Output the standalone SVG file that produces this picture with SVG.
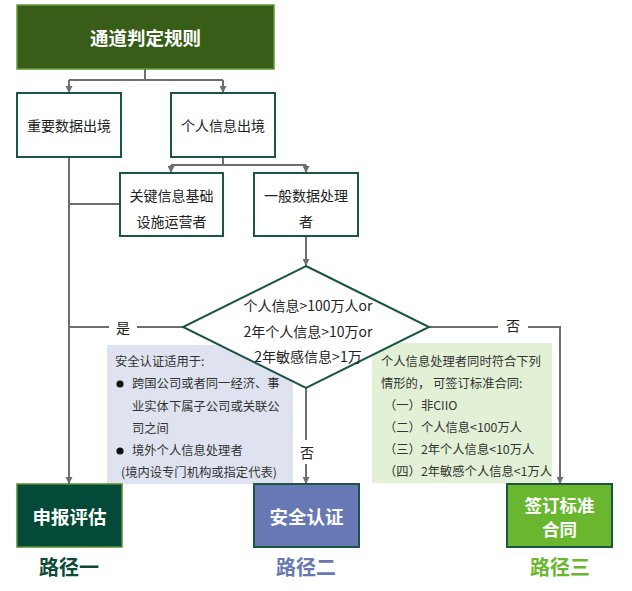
<svg xmlns="http://www.w3.org/2000/svg" width="632" height="591" viewBox="0 0 632 591">
<defs>
<style>
text{font-family:"Noto Sans CJK SC","Microsoft YaHei",sans-serif;}
.box{fill:#ffffff;stroke:#1b5544;stroke-width:2;}
.t14{font-size:14px;fill:#222;text-anchor:middle;dominant-baseline:central;}
.t12{font-size:12.3px;fill:#333;}
.wb{font-size:18.5px;font-weight:bold;fill:#ffffff;text-anchor:middle;dominant-baseline:central;}
.wb2{font-size:17.5px;font-weight:bold;fill:#ffffff;text-anchor:middle;dominant-baseline:central;}
.lab{font-size:20px;font-weight:bold;text-anchor:middle;}
.ln{fill:none;stroke:#6e6e6e;stroke-width:2;}
</style>
<marker id="arr" viewBox="0 0 10 10" refX="10" refY="5" markerWidth="7" markerHeight="7" markerUnits="userSpaceOnUse" orient="auto"><path d="M0,0 L10,5 L0,10 z" fill="#6e6e6e"/></marker>
</defs>
<rect width="632" height="591" fill="#ffffff"/>

<g id="note-security">
<rect x="107" y="345" width="186" height="139" fill="#dfe3ef"/>
<text class="t12" x="115" y="366">安全认证适用于:</text>
<circle cx="120" cy="384" r="3.6" fill="#111"/>
<text class="t12" x="132" y="388">跨国公司或者同一经济、事</text>
<text class="t12" x="132" y="411">业实体下属子公司或关联公</text>
<text class="t12" x="132" y="433">司之间</text>
<circle cx="120" cy="451" r="3.6" fill="#111"/>
<text class="t12" x="132" y="455">境外个人信息处理者</text>
<text class="t12" x="121" y="477">(境内设专门机构或指定代表)</text>
</g>

<g id="note-contract">
<rect x="372" y="343" width="180" height="140" fill="#e2f0d6"/>
<text class="t12" x="381" y="366">个人信息处理者同时符合下列</text>
<text class="t12" x="381" y="388">情形的， 可签订标准合同:</text>
<text class="t12" x="384" y="410">（一）非CIIO</text>
<text class="t12" x="384" y="432">（二）个人信息&lt;100万人</text>
<text class="t12" x="384" y="454">（三）2年个人信息&lt;10万人</text>
<text class="t12" x="384" y="476">（四）2年敏感个人信息&lt;1万人</text>
</g>

<g id="connectors">
<path class="ln" d="M145,69 V80 M69,80 H223" />
<path class="ln" d="M69,80 V93" marker-end="url(#arr)"/>
<path class="ln" d="M223,80 V93" marker-end="url(#arr)"/>
<path class="ln" d="M223,157 V165 M171,165 H306"/>
<path class="ln" d="M171,165 V173" marker-end="url(#arr)"/>
<path class="ln" d="M306,165 V173" marker-end="url(#arr)"/>
<path class="ln" d="M69,157 V484" marker-end="url(#arr)"/>
<path class="ln" d="M120,204 H69"/>
<path class="ln" d="M306,236 V266" marker-end="url(#arr)"/>
<path class="ln" d="M183,327 H69"/>
<path class="ln" d="M306,388 V484" marker-end="url(#arr)"/>
<path class="ln" d="M429,327 H560 V484" marker-end="url(#arr)"/>
<rect x="109" y="316" width="28" height="22" fill="#ffffff"/>
<text class="t14" x="123" y="327">是</text>
<rect x="498" y="316" width="30" height="22" fill="#ffffff"/>
<text class="t14" x="513" y="325">否</text>
<rect x="294" y="440" width="26" height="24" fill="#ffffff"/>
<text class="t14" x="307" y="452">否</text>
</g>

<g id="title">
<rect x="17" y="5" width="257" height="64" fill="#385d18" stroke="#659a3a" stroke-width="1.5"/>
<text class="wb" x="145.5" y="37">通道判定规则</text>
</g>

<g id="important-data">
<rect class="box" x="17" y="93" width="104" height="64"/>
<text class="t14" x="69" y="125">重要数据出境</text>
</g>

<g id="personal-info">
<rect class="box" x="171" y="93" width="104" height="64"/>
<text class="t14" x="223" y="125">个人信息出境</text>
</g>

<g id="ciio">
<rect class="box" x="120" y="173" width="103" height="63"/>
<text class="t14" x="171.5" y="195">关键信息基础</text>
<text class="t14" x="171.5" y="221">设施运营者</text>
</g>

<g id="general">
<rect class="box" x="254" y="173" width="104" height="63"/>
<text class="t14" x="306" y="195">一般数据处理</text>
<text class="t14" x="306" y="221">者</text>
</g>

<g id="decision">
<polygon points="306,266 429,327 306,388 183,327" fill="#ffffff" stroke="#1b5544" stroke-width="2"/>
<text class="t14" x="308" y="305">个人信息&gt;100万人or</text>
<text class="t14" x="308" y="331">2年个人信息&gt;10万or</text>
<text class="t14" x="308" y="356">2年敏感信息&gt;1万</text>
</g>

<g id="path1">
<rect x="17" y="484" width="105" height="63" fill="#034b38" stroke="#5b8e2f" stroke-width="1.5"/>
<text class="wb" x="69.5" y="516">申报评估</text>
<text class="lab" x="69" y="575" fill="#0b4b38">路径一</text>
</g>

<g id="path2">
<rect x="254" y="484" width="105" height="63" fill="#6878b4" stroke="#1b5544" stroke-width="2"/>
<text class="wb" x="306.5" y="516">安全认证</text>
<text class="lab" x="306" y="575" fill="#6878b4">路径二</text>
</g>

<g id="path3">
<rect x="507" y="484" width="105" height="63" fill="#6ab72f" stroke="#1b5544" stroke-width="2"/>
<text class="wb2" x="559.5" y="504">签订标准</text>
<text class="wb2" x="559.5" y="528">合同</text>
<text class="lab" x="560" y="575" fill="#6ab72f">路径三</text>
</g>
</svg>
